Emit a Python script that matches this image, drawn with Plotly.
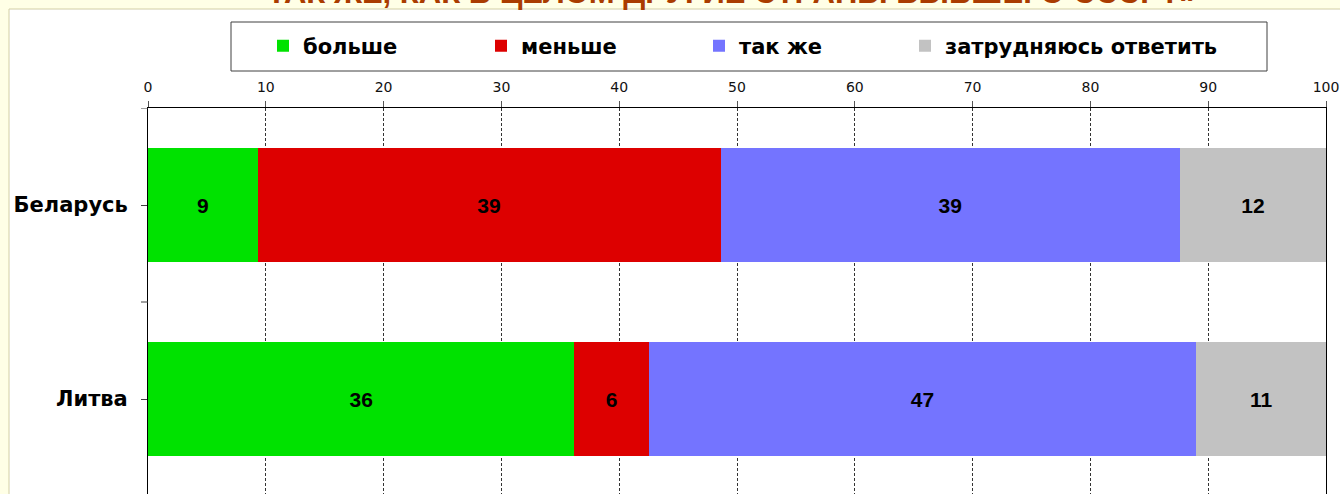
import plotly.graph_objects as go

# ---- data ----
countries = ["Беларусь", "Литва"]
series_names = ["больше", "меньше", "так же", "затрудняюсь ответить"]
more_vals = [9.3, 36.2]
less_vals = [39.3, 6.3]
same_vals = [39.0, 46.5]
hard_vals = [12.4, 11.0]
series_values = [more_vals, less_vals, same_vals, hard_vals]
series_colors = ["#00E200", "#DD0000", "#7474FF", "#C2C2C2"]
x_ticks = [0, 10, 20, 30, 40, 50, 60, 70, 80, 90, 100]
title_text = "ТАК ЖЕ, КАК В ЦЕЛОМ ДРУГИЕ СТРАНЫ БЫВШЕГО СССР?»"

W, H = 1340, 494
ML, MR, MT, MB = 148, 14, 108, 0
PW = W - ML - MR
PH = H - MT - MB


def px_x(p):
    return (p - ML) / PW


def px_y(p):
    return (H - MB - p) / PH


legend_ids = ["legend", "legend2", "legend3", "legend4"]
legend_left_px = [263, 481, 699, 905]

fig = go.Figure()
for name, vals, col, lid in zip(series_names, series_values, series_colors, legend_ids):
    fig.add_trace(go.Bar(
        y=countries, x=vals, name=name, orientation="h",
        marker=dict(color=col, line=dict(width=0)),
        texttemplate="%{x:.0f}", textposition="inside",
        insidetextanchor="middle", textangle=0,
        textfont=dict(family="Liberation Sans", size=21, color="black", weight="bold"),
        hoverinfo="skip", legend=lid,
    ))

shapes = [
    # white chart frame
    dict(type="rect", xref="paper", yref="paper", layer="below",
         x0=px_x(9), x1=px_x(W + 20), y0=px_y(H + 20), y1=px_y(9),
         fillcolor="white", line=dict(color="#D2CEA6", width=1)),
    # legend box
    dict(type="rect", xref="paper", yref="paper", layer="below",
         x0=px_x(231), x1=px_x(1267), y0=px_y(71), y1=px_y(22),
         fillcolor="white", line=dict(color="#404040", width=1)),
]
# category boundary ticks on the y axis
for b in [-0.5, 0.5]:
    shapes.append(dict(type="line", xref="paper", yref="y",
                       x0=px_x(141), x1=0, y0=b, y1=b,
                       line=dict(color="#404040", width=1)))

legend_font = dict(family="DejaVu Sans", size=21, color="black", weight="bold")
layout_legends = {}
for lid, lx in zip(legend_ids, legend_left_px):
    layout_legends[lid] = dict(
        orientation="h", x=px_x(lx), xanchor="left",
        y=px_y(46), yanchor="middle",
        bgcolor="rgba(0,0,0,0)", borderwidth=0,
        font=legend_font,
    )

fig.update_layout(
    width=W, height=H,
    margin=dict(l=ML, r=MR, t=MT, b=MB, pad=0),
    paper_bgcolor="#FFFFE6",
    plot_bgcolor="white",
    barmode="stack",
    bargap=0.41,
    showlegend=True,
    xaxis=dict(
        side="top", range=[0, 100], tickvals=x_ticks,
        showline=True, linecolor="black", linewidth=1,
        ticks="outside", ticklen=6, tickcolor="#555555",
        showgrid=True, gridcolor="#333333", gridwidth=1, griddash="3px,2px",
        zeroline=False, mirror=False,
        tickfont=dict(family="DejaVu Sans", size=14, color="#111111"),
        ticklabelstandoff=3,
        fixedrange=True,
    ),
    yaxis=dict(
        type="category", categoryorder="array", categoryarray=countries,
        range=[-0.5 + PH / 194.0, -0.5],
        showline=True, linecolor="black", linewidth=1, mirror=True,
        ticks="outside", ticklen=6, tickcolor="#404040",
        showgrid=False, zeroline=False,
        tickfont=dict(family="DejaVu Sans", size=21, color="black", weight="bold"),
        ticklabelstandoff=9,
        fixedrange=True,
    ),
    shapes=shapes,
    annotations=[dict(
        text=title_text, xref="paper", yref="paper",
        x=px_x(732), y=px_y(12), xanchor="center", yanchor="bottom",
        showarrow=False,
        font=dict(family="Liberation Sans", size=31, color="#AA3C00", weight="bold"),
    )],
    **layout_legends,
)

fig.write_html(
    "out.html",
    config={"displayModeBar": False},
    post_script="document.body.style.margin='0';document.body.style.overflow='hidden';",
)
